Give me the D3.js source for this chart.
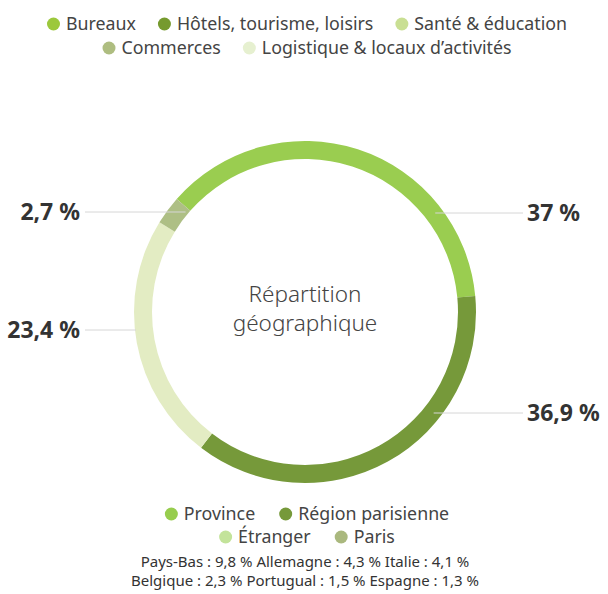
<!DOCTYPE html>
<html>
<head>
<meta charset="utf-8">
<script src="https://cdn.jsdelivr.net/npm/d3@7"></script>
<style>
  body { margin: 0; background: #fff; }
  svg { display: block; font-family: "Noto Sans", sans-serif; }
</style>
</head>
<body>
<svg width="608" height="594"></svg>
<script>
// top legend (typologies)
const typoNames = ["Bureaux", "Hôtels, tourisme, loisirs", "Santé & éducation", "Commerces", "Logistique & locaux d\u2019activités"];
const typoColors = ["#9cc83c", "#769a2e", "#c9df93", "#aebd80", "#e6f0d0"];
const typoRows = [[0, 1, 2], [3, 4]];

// donut: geographical split
const zones = ["Province", "Région parisienne", "Étranger", "Paris"];
const shares = [37, 36.9, 23.4, 2.7];
const shareLabels = ["37 %", "36,9 %", "23,4 %", "2,7 %"];
const ringColors = ["#9acd50", "#76993a", "#e3ecc3", "#aebf85"];
const zoneLegendColors = ["#97cd4e", "#76993a", "#c3e39a", "#aab87e"];
const zoneRows = [[0, 1], [2, 3]];

const footnotes = [
  "Pays-Bas : 9,8 % Allemagne : 4,3 % Italie : 4,1 %",
  "Belgique : 2,3 % Portugual : 1,5 % Espagne : 1,3 %"
];

const svg = d3.select("svg");
const cx = 305, cy = 312, rOut = 171, rIn = 153;
const start = -48.6 * Math.PI / 180;

function legendRow(names, colors, idx, y, fontSize, gap) {
  const g = svg.append("g");
  let x = 0;
  idx.forEach(function (i) {
    const it = g.append("g");
    it.append("circle").attr("cx", 6.5).attr("cy", 0).attr("r", 6.5).style("fill", colors[i]);
    const t = it.append("text").attr("x", 19).attr("y", 0).attr("dy", "0.35em")
      .style("font-size", fontSize + "px").style("fill", "#444").text(names[i]);
    const w = 19 + t.node().getComputedTextLength();
    it.attr("transform", "translate(" + x + ",0)");
    x += w + gap;
  });
  const total = x - gap;
  g.attr("transform", "translate(" + (307 - total / 2) + "," + y + ")");
}

legendRow(typoNames, typoColors, typoRows[0], 24, 17.8, 22);
legendRow(typoNames, typoColors, typoRows[1], 48, 17.8, 22);

const pie = d3.pie().sort(null).value(d => d).startAngle(start).endAngle(start + 2 * Math.PI);
const arc = d3.arc().innerRadius(rIn).outerRadius(rOut);
const arcs = pie(shares);

const donut = svg.append("g").attr("transform", "translate(" + cx + "," + cy + ")");
donut.selectAll("path.slice").data(arcs).enter().append("path")
  .attr("class", "slice")
  .attr("d", arc)
  .style("fill", (d, i) => ringColors[i]);

// label leader lines: vertical offset of each label from centre, side
const labelDy = [-99, 101, 18, -100];
const labelSide = [1, 1, -1, -1];
const rMid = (rIn + rOut) / 2;
arcs.forEach(function (d, i) {
  const dy = labelDy[i];
  const xr = Math.sqrt(rMid * rMid - dy * dy) * labelSide[i];
  const xEnd = labelSide[i] > 0 ? 523 - cx : 85 - cx;
  donut.append("line")
    .attr("x1", labelSide[i] > 0 ? xr + 2 : xr + (i === 2 ? -8 : 8))
    .attr("x2", xEnd).attr("y1", dy).attr("y2", dy)
    .style("stroke", "#d6d6d6").style("stroke-width", 1);
  donut.append("text")
    .attr("x", labelSide[i] > 0 ? 527 - cx : 80 - cx)
    .attr("y", dy).attr("dy", "0.35em")
    .attr("text-anchor", labelSide[i] > 0 ? "start" : "end")
    .style("font-size", "23px").style("font-weight", "bold").style("fill", "#333")
    .text(shareLabels[i]);
});

donut.append("text").attr("text-anchor", "middle").attr("y", -10)
  .style("font-size", "22.5px").style("font-weight", "300").style("fill", "#444").text("Répartition");
donut.append("text").attr("text-anchor", "middle").attr("y", 19)
  .style("font-size", "22.5px").style("font-weight", "300").style("fill", "#444").text("géographique");

legendRow(zones, zoneLegendColors, zoneRows[0], 514, 17.8, 24);
legendRow(zones, zoneLegendColors, zoneRows[1], 537, 17.8, 24);

svg.selectAll("text.note").data(footnotes).enter().append("text")
  .attr("class", "note")
  .attr("x", 305).attr("y", (d, i) => 567 + i * 19)
  .attr("text-anchor", "middle")
  .style("font-size", "15px").style("fill", "#333")
  .text(d => d);
</script>
</body>
</html>
